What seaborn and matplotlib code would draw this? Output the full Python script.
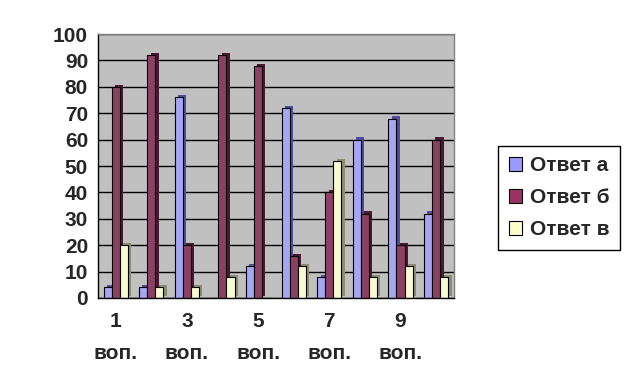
import matplotlib
matplotlib.use("Agg")
import matplotlib.pyplot as plt
import matplotlib.patheffects as pe
from matplotlib.patches import Patch
import pandas as pd
import seaborn as sns

questions = [f"{i} воп." for i in range(1, 11)]
answer_a = [4, 4, 76, 0, 12, 72, 8, 60, 68, 32]
answer_b = [80, 92, 20, 92, 88, 16, 40, 32, 20, 60]
answer_v = [20, 4, 4, 8, 0, 12, 52, 8, 12, 8]
series = ["Ответ а", "Ответ б", "Ответ в"]

colors = {"Ответ а": "#9999FF", "Ответ б": "#993366", "Ответ в": "#FFFFCC"}
sides = {"Ответ а": "#4D4D99", "Ответ б": "#4A1830", "Ответ в": "#8C8C6E"}

df = pd.DataFrame({"question": questions * 3,
                   "series": [s for s in series for _ in questions],
                   "value": answer_a + answer_b + answer_v})

sns.set_theme(style="white")
plt.rcParams["font.family"] = ["Liberation Sans", "DejaVu Sans"]
plt.rcParams["font.weight"] = "bold"

fig = plt.figure(figsize=(6.27, 3.87), dpi=100)
ax = fig.add_axes([0.156, 0.23, 0.568, 0.682])
sns.barplot(data=df, x="question", y="value", hue="series", palette=colors,
            width=0.68, edgecolor="black", linewidth=0.8, ax=ax, legend=False)

# fake Excel 3-D depth with an offset shadow per bar
n = len(questions)
for i, bar in enumerate(ax.patches[:3 * n]):
    s = series[i // n]
    bar.set_path_effects([pe.SimplePatchShadow(offset=(2.4, 1.6), shadow_rgbFace=sides[s], alpha=1.0),
                          pe.Normal()])

ax.set_facecolor("#C0C0C0")
ax.set_ylim(0, 100)
ax.set_xlim(-0.5, n - 0.5)
ax.set_yticks(range(0, 101, 10))
ax.yaxis.grid(True, color="black", linewidth=1)
ax.set_axisbelow(True)
ax.set_xlabel("")
ax.set_ylabel("")

ax.set_xticks([i + 0.5 for i in range(-1, n)], minor=False)
ax.set_xticklabels([])
ax.set_xticks(range(0, n, 2), minor=True)
ax.set_xticklabels([q.replace(" ", "\n") for q in questions[::2]], minor=True,
                   fontsize=15, fontweight="bold", linespacing=1.85)
ax.tick_params(axis="x", which="major", direction="out", length=5, width=1, color="black")
ax.tick_params(axis="x", which="minor", length=0, pad=10)
ax.tick_params(axis="y", direction="out", length=5, width=1, color="black",
               labelsize=15, pad=2)
for lab in ax.get_yticklabels():
    lab.set_fontweight("bold")

for side in ["top", "right"]:
    ax.spines[side].set_color("#808080")
    ax.spines[side].set_linewidth(1)
for side in ["left", "bottom"]:
    ax.spines[side].set_color("black")
    ax.spines[side].set_linewidth(1)

handles = [Patch(facecolor=colors[s], edgecolor="black", linewidth=0.8, label=s) for s in series]
leg = fig.legend(handles=handles, loc="upper left", bbox_to_anchor=(0.795, 0.623),
                 frameon=True, fancybox=False, edgecolor="black", framealpha=1,
                 prop={"size": 15, "weight": "bold"}, handlelength=0.65, handleheight=0.65,
                 handletextpad=0.35, labelspacing=0.62, borderpad=0.5, borderaxespad=0)
leg.get_frame().set_linewidth(1)

fig.savefig("out.png", dpi=100)
